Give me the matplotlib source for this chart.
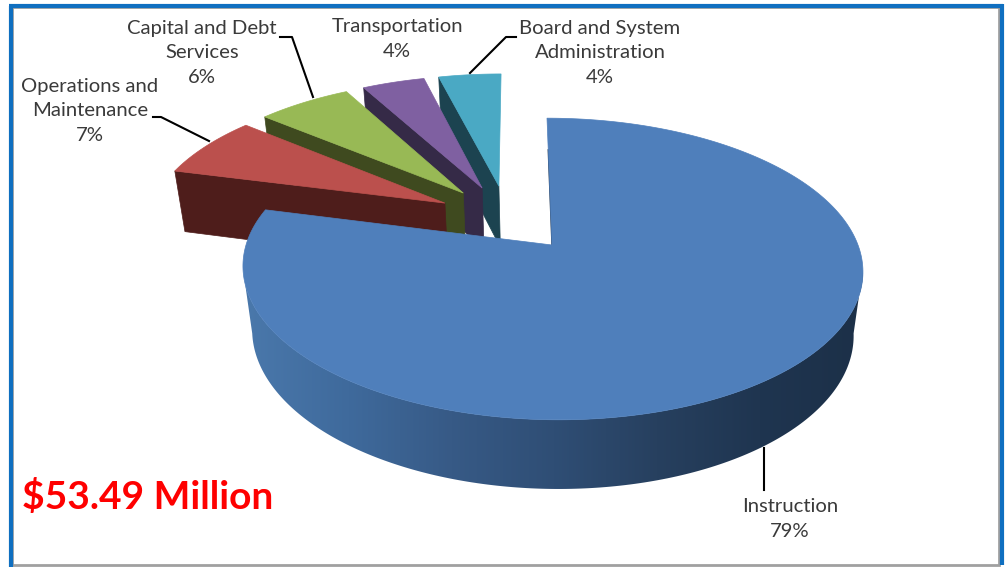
import numpy as np
import matplotlib
matplotlib.use("Agg")
import matplotlib.pyplot as plt
from matplotlib.colors import LinearSegmentedColormap
from matplotlib.patches import Polygon, Rectangle

# Spending shares, clockwise from twelve o'clock
categories = ["Instruction", "Operations and\nMaintenance", "Capital and Debt\nServices",
              "Transportation", "Board and System\nAdministration"]
shares = [79, 7, 6, 4, 4]
total_label = "$53.49 Million"

top_colors = ["#4f7fbb", "#bb504d", "#98b955", "#7f60a1", "#4aa9c4"]
wall_colors = ["#1f3550", "#4e1d1b", "#3f4a1f", "#352a47", "#1c4350"]
rim_stops = ["#4a78ab", "#3f6a9c", "#375a86", "#2f4e75", "#27405f", "#1f3550", "#1c3048"]

# Exploded 3D pie, projected onto the canvas (pixel units)
EXPLODE = 0.24
APEX = (552.0, 245.0)
SX, SY, TILT, SHEAR = 306.0, 147.0, 0.159, -5.8
DEPTH_Y, DEPTH_W = 65.5, 0.03


def unit(clock_deg):
    a = np.radians(clock_deg)
    return np.sin(a), np.cos(a)


def project(u, v, bottom=False):
    u, v = np.asarray(u, float), np.asarray(v, float)
    w = 1 + TILT * v + (DEPTH_W if bottom else 0)
    x = APEX[0] + (SX * u + SHEAR * v) / w
    y = APEX[1] - (SY * v - (DEPTH_Y if bottom else 0)) / w
    return np.column_stack([x, y])


fig = plt.figure(figsize=(10.05, 5.67), dpi=100)
ax = fig.add_axes([0, 0, 1, 1])
ax.set_xlim(0, 1005)
ax.set_ylim(567, 0)
ax.axis("off")

# window frame
ax.add_patch(Rectangle((12, 7), 987, 558, fc="white", ec="#a0a0a0", lw=2, zorder=1))
ax.plot([10.5, 10.5], [567, 5.5], color="#0f6fc0", lw=3, zorder=2, solid_capstyle="butt")
ax.plot([9, 1003], [5.5, 5.5], color="#0f6fc0", lw=3, zorder=2, solid_capstyle="butt")
ax.plot([1001.5, 1001.5], [4, 565], color="#0f6fc0", lw=3, zorder=2, solid_capstyle="butt")

starts = np.concatenate([[0], np.cumsum(shares)[:-1]]) * 3.6
sweeps = np.array(shares) * 3.6
mids = starts + sweeps / 2
blue_du, blue_dv = unit(mids[0])

# pie centre sits at the origin; every slice is pulled out along its bisector
def slice_uv(i, r, angles):
    du, dv = unit(mids[i])
    su, sv = unit(angles)
    # coordinates are relative to the apex of the first slice
    return (EXPLODE * (du - blue_du) + r * su, EXPLODE * (dv - blue_dv) + r * sv)


# small slices, back to front
for i in [4, 3, 2, 1]:
    angles = np.linspace(starts[i], starts[i] + sweeps[i], 40)
    u_a, v_a = slice_uv(i, 0, np.array([0.0]))
    u_s, v_s = slice_uv(i, 1, np.array([starts[i]]))
    wall = np.vstack([project(u_a, v_a), project(u_s, v_s),
                      project(u_s, v_s, True), project(u_a, v_a, True)])
    ax.add_patch(Polygon(wall, fc=wall_colors[i], ec=wall_colors[i], lw=0.5, zorder=3))
    u, v = slice_uv(i, 1, angles)
    face = np.vstack([project(u_a, v_a), project(u, v)])
    ax.add_patch(Polygon(face, fc=top_colors[i], ec=top_colors[i], lw=0.5, zorder=3))

# big slice: shaded rim over the front-facing arc only, then the top face
silhouette = np.degrees(np.arccos(-TILT))
front = np.linspace(silhouette, 360 - silhouette, 200)
u_f, v_f = slice_uv(0, 1, front)
rim_outline = np.vstack([project(u_f, v_f), project(u_f, v_f, True)[::-1]])
rim_cmap = LinearSegmentedColormap.from_list("rim", rim_stops)
grad = ax.imshow(np.linspace(0, 1, 256)[None, :], cmap=rim_cmap, aspect="auto",
                 extent=[245, 864, 500, 100], zorder=4)
ax.set_xlim(0, 1005)
ax.set_ylim(567, 0)
grad.set_clip_path(Polygon(rim_outline, transform=ax.transData))

edge = project(*slice_uv(0, 1, np.array([0.0])))
ax.plot([0.75 * edge[0, 0] + 0.25 * APEX[0], APEX[0]],
        [0.75 * edge[0, 1] + 0.25 * APEX[1], APEX[1]],
        color=wall_colors[0], lw=1.0, zorder=4)
angles = np.linspace(0, sweeps[0], 300)
u, v = slice_uv(0, 1, angles)
face = np.vstack([[APEX], project(u, v)])
ax.add_patch(Polygon(face, fc=top_colors[0], ec=top_colors[0], lw=0.5, zorder=5))

# leader lines
leaders = [([153, 161, 209], [117, 117, 141]),
           ([280, 292, 313], [37, 37, 97]),
           ([516, 506, 470], [37, 37, 73]),
           ([764, 764], [448, 490])]
for xs, ys in leaders:
    ax.plot(xs, ys, color="black", lw=1.5, zorder=6)

# labels
label_pos = [(790, 519), (90, 111), (202, 53), (397, 39), (600, 53)]
font = ["Lato", "DejaVu Sans"]
for name, share, (x, y) in zip(categories, shares, label_pos):
    ax.text(x, y, f"{name}\n{share}%", ha="center", va="center", fontsize=14.6,
            family=font, color="#3a3a3a", linespacing=1.56, zorder=7)

ax.text(22, 497, total_label, ha="left", va="center", fontsize=28, fontweight="bold",
        family=font, color="#fe0000", zorder=7)

fig.savefig("out.png", dpi=100)
